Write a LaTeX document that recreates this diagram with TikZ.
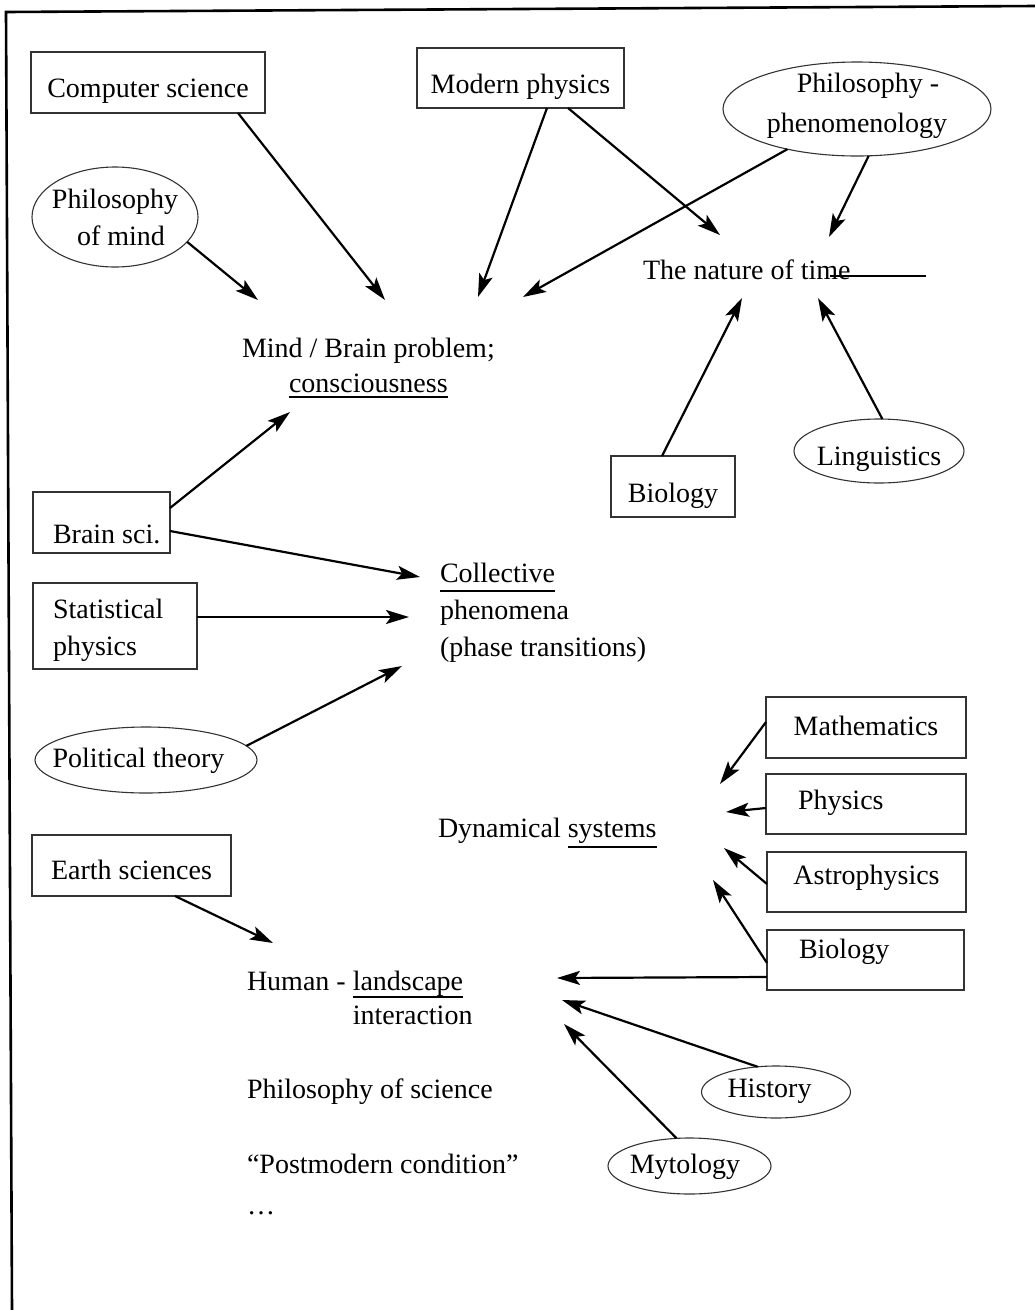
\documentclass[tikz,border=0pt]{standalone}
\usepackage{fontspec}
\setmainfont{Liberation Serif}
\usetikzlibrary{arrows.meta,shapes.geometric}
\newcommand{\myul}[2][5]{\setbox0\hbox{#2}\rlap{\rule[-#1pt]{\wd0}{1.6pt}}\box0}
\begin{document}
\begin{tikzpicture}[x=1pt,y=-1pt,
  every node/.style={inner sep=0pt, outer sep=0pt, font=\fontsize{28pt}{37pt}\selectfont},
  box/.style={draw=black!80, line width=1.1pt, rectangle},
  oval/.style={draw=black!80, line width=1.1pt, ellipse},
  txt/.style={anchor=base west},
  arr/.style={line width=2.2pt, -{Stealth[length=23pt,width=14pt,inset=5pt]}},
]
\useasboundingbox (0,0) rectangle (1035,1310);
\fill[white] (0,0) rectangle (1035,1310);
\draw[line width=2.6pt] (12,1310) -- (6,12) -- (1035,6);

% boxes and ovals
\node[box, minimum width=234pt, minimum height=61pt, text height=29pt, text depth=0pt] (cs) at (148,82.5) {\makebox[0pt]{Computer science}};
\node[box, minimum width=207pt, minimum height=60pt, text height=30pt, text depth=0pt] (mp) at (520.5,78) {\makebox[0pt]{Modern physics}};
\node[oval, minimum width=268pt, minimum height=94pt, text height=0pt, text depth=34pt] (pp) at (857,109) {\makebox[0pt]{\begin{tabular}[t]{@{}c@{}}\hspace*{22pt}Philosophy -\\[3pt]phenomenology\end{tabular}}};
\node[oval, minimum width=166pt, minimum height=100pt, text height=0pt, text depth=18pt] (pom) at (115,217) {\makebox[0pt]{\begin{tabular}[t]{@{}c@{}}Philosophy\\\hspace*{12pt}of mind\end{tabular}}};
\node[box, minimum width=124pt, minimum height=61pt, text height=31pt, text depth=0pt] (bio1) at (673,486.5) {\makebox[0pt]{Biology}};
\node[oval, minimum width=170pt, minimum height=64pt, text height=28pt, text depth=0pt] (ling) at (879,451) {\makebox[0pt]{Linguistics}};
\node[box, minimum width=137pt, minimum height=61pt, text height=41pt, text depth=0pt] (bs) at (101.5,522.5) {\makebox[0pt][l]{\hspace*{-48.5pt}Brain sci.}};
\node[box, minimum width=164pt, minimum height=86pt, text height=0pt, text depth=16pt] (sp) at (115,626) {\makebox[0pt][l]{\hspace*{-62pt}\begin{tabular}[t]{@{}l@{}}Statistical\\physics\end{tabular}}};
\node[oval, minimum width=222pt, minimum height=66pt, text height=14pt, text depth=0pt] (pt) at (146,760) {\makebox[0pt]{\hspace*{-15pt}Political theory}};
\node[box, minimum width=200pt, minimum height=61pt, text height=15pt, text depth=0pt] (math) at (866,727.5) {\makebox[0pt]{Mathematics}};
\node[box, minimum width=200pt, minimum height=60pt, text height=10pt, text depth=0pt] (phys) at (866,804) {\makebox[0pt][l]{\hspace*{-68pt}Physics}};
\node[box, minimum width=199pt, minimum height=60pt, text height=4pt, text depth=0pt] (astro) at (866.5,882) {\makebox[0pt]{Astrophysics}};
\node[box, minimum width=197pt, minimum height=60pt, text height=0pt, text depth=4pt] (bio2) at (865.5,960) {\makebox[0pt][l]{\hspace*{-66.5pt}Biology}};
\node[box, minimum width=199pt, minimum height=61pt, text height=27pt, text depth=0pt] (es) at (131.5,865.5) {\makebox[0pt]{Earth sciences}};
\node[oval, minimum width=149pt, minimum height=52pt, text height=10pt, text depth=0pt] (hist) at (776,1092) {\makebox[0pt]{\hspace*{-13pt}History}};
\node[oval, minimum width=163pt, minimum height=56pt, text height=14pt, text depth=0pt] (myt) at (689.5,1166) {\makebox[0pt]{\hspace*{-9pt}Mytology}};

% plain texts
\node[txt] (mind) at (242,357) {\begin{tabular}[t]{@{}c@{}}Mind / Brain problem;\\[-2pt]\myul[5.8]{consciousness}\end{tabular}};
\node[txt] (time) at (643,279) {The nature of time};
\draw[line width=1.6pt] (830,276) -- (926,276);
\node[txt] (coll) at (440,582) {\begin{tabular}[t]{@{}l@{}}\myul[9.8]{Collective}\\phenomena\\(phase transitions)\end{tabular}};
\node[txt] (dyn) at (438,837) {Dynamical \myul[10.8]{systems}};
\node[txt] (human) at (247,990) {\begin{tabular}[t]{@{}l@{}}Human - \myul[7.8]{landscape}\\[-3pt]\phantom{Human - }interaction\end{tabular}};
\node[txt] (philsci) at (247,1098) {Philosophy of science};
\node[txt] (post) at (247,1173) {“Postmodern condition”};
\node[txt] (dots) at (247,1214) {\ldots};

% arrow tips
\coordinate (tA) at (385,300);
\coordinate (tB) at (258,300);
\coordinate (tC) at (478,297);
\coordinate (tD) at (720,235);
\coordinate (tE) at (523,297);
\coordinate (tF) at (829,237);
\coordinate (tG) at (742,298);
\coordinate (tH) at (818,298);
\coordinate (tI) at (290,412);
\coordinate (tJ) at (420,577);
\coordinate (tK) at (409,617);
\coordinate (tL) at (402,666);
\coordinate (tM) at (720,784);
\coordinate (tN) at (726,812);
\coordinate (tO) at (724,848);
\coordinate (tP) at (713,880);
\coordinate (tQ) at (557,978);
\coordinate (tR) at (562,1000);
\coordinate (tS) at (564,1024);
\coordinate (tT) at (273,943);

% arrows
\draw[arr] ([xshift=90pt]cs.south) -- (tA);
\draw[arr] (pom.-19) -- (tB);
\draw[arr] ([xshift=26.5pt]mp.south) -- (tC);
\draw[arr] ([xshift=47.5pt]mp.south) -- (tD);
\draw[arr] (pp.210) -- (tE);
\draw[arr] (pp.284) -- (tF);
\draw[arr] ([xshift=-11pt]bio1.north) -- (tG);
\draw[arr] (ling.84) -- (tH);
\draw[arr] ([yshift=14.5pt]bs.east) -- (tI);
\draw[arr] ([yshift=-8.5pt]bs.east) -- (tJ);
\draw[arr] ([yshift=9pt]sp.east) -- (tK);
\draw[arr] (pt.8) -- (tL);
\draw[arr] ([yshift=5.5pt]math.west) -- (tM);
\draw[arr] ([yshift=-4pt]phys.west) -- (tN);
\draw[arr] ([yshift=-2pt]astro.west) -- (tO);
\draw[arr] ([yshift=-3pt]bio2.west) -- (tP);
\draw[arr] ([yshift=-17pt]bio2.west) -- (tQ);
\draw[arr] (hist.126) -- (tR);
\draw[arr] (myt.115) -- (tS);
\draw[arr] ([xshift=43.5pt]es.south) -- (tT);
\end{tikzpicture}
\end{document}
